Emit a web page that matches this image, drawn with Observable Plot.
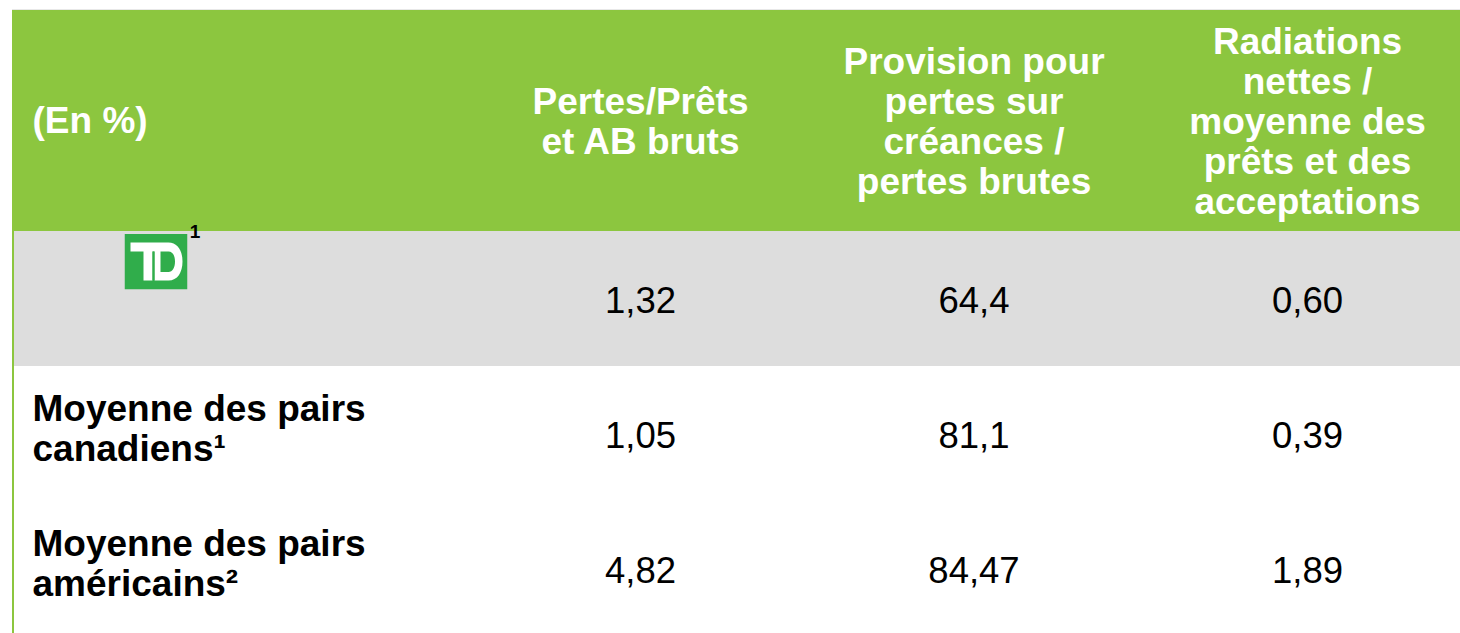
<!DOCTYPE html>
<html>
<head>
<meta charset="utf-8">
<script src="https://cdn.jsdelivr.net/npm/d3@7"></script>
<script src="https://cdn.jsdelivr.net/npm/@observablehq/plot@0.6"></script>
<style>
html, body { margin: 0; padding: 0; background: #ffffff; }
#chart svg { display: block; }
</style>
</head>
<body>
<div id="chart"></div>
<script>
// ---- Data ----
const columns = ["pertes", "provision", "radiations"];
const columnHeaders = [
  "Pertes/Prêts\net AB bruts",
  "Provision pour\npertes sur\ncréances /\npertes brutes",
  "Radiations\nnettes /\nmoyenne des\nprêts et des\nacceptations"
];
const cornerLabel = "(En %)";
const rows = ["TD", "CAN", "US"];
const rowLabels = [null, "Moyenne des pairs\ncanadiens¹", "Moyenne des pairs\naméricains²"];
const pertesPrets = [1.32, 1.05, 4.82];
const provisionPertes = [64.4, 81.1, 84.47];
const radiationsNettes = [0.60, 0.39, 1.89];
const minDecimals = [2, 1, 2];
const logoNote = "1";

// ---- Derived tables ----
const series = [pertesPrets, provisionPertes, radiationsNettes];
const cells = rows.flatMap((r, i) => columns.map((c, j) => ({row: r, col: c, value: series[j][i], dec: minDecimals[j]})));
const fmt = d => new Intl.NumberFormat("fr-FR", {minimumFractionDigits: d.dec, maximumFractionDigits: 2}).format(d.value);
const headerData = columns.map((c, j) => ({col: c, label: columnHeaders[j]}));
const labelData = rows.map((r, i) => ({row: r, label: rowLabels[i]})).filter(d => d.label);
const rowData = rows.map(r => ({row: r}));

const GREEN = "#8cc63f";
const GREY = "#dddddd";
const FONT = "'Liberation Sans', Arial, Helvetica, sans-serif";

const logoSvg = `<svg xmlns="http://www.w3.org/2000/svg" width="63" height="56" viewBox="0 0 63 56">
<rect width="63" height="56" fill="#30ad4b"/>
<path fill="#ffffff" fill-rule="evenodd" d="M6 9H30V18H28V47H19V18H6Z M30 9H44C53 9 58 17 58 28C58 39 53 47 44 47H30Z M36 18H44C48 18 50.5 22 50.5 28C50.5 34 48 38.5 44 38.5H36Z"/>
<rect x="28" y="18" width="2" height="29" fill="#30ad4b"/>
</svg>`;
const logoUri = "data:image/svg+xml;charset=utf-8," + encodeURIComponent(logoSvg);

const chart = Plot.plot({
  width: 1460,
  height: 633,
  margin: 0,
  style: {fontFamily: FONT, background: "#ffffff"},
  x: {type: "band", domain: columns, range: [473.25, 1473.75], padding: 0, round: false, axis: null},
  y: {type: "band", domain: ["hdr", ...rows], range: [96, 636], padding: 0, round: false, axis: null},
  marks: [
    // faint line above header
    Plot.cell([{row: "hdr"}], {y: "row", fill: "#e8e8e8", insetTop: -87, insetBottom: 134, insetLeft: 12}),
    // header band
    Plot.cell([{row: "hdr"}], {y: "row", fill: GREEN, insetTop: -86, insetLeft: 12}),
    // grey TD row
    Plot.cell(rowData.filter(d => d.row === "TD"), {y: "row", fill: GREY, insetLeft: 14}),
    // left green border along body rows
    Plot.cell(rowData, {y: "row", fill: GREEN, insetLeft: 12, insetRight: 1446}),
    // header texts
    Plot.text([cornerLabel], {y: () => "hdr", text: d => d, frameAnchor: "left", textAnchor: "start", dx: 32, dy: -42.5,
      fill: "#ffffff", fontSize: 37, fontWeight: "bold"}),
    Plot.text(headerData, {x: "col", y: () => "hdr", text: "label", fill: "#ffffff", fontSize: 37, fontWeight: "bold",
      lineHeight: 40 / 37, lineAnchor: "middle", dy: -42.5}),
    // row labels
    Plot.text(labelData, {y: "row", text: "label", frameAnchor: "left", textAnchor: "start", dx: 32, dy: -6,
      fill: "#000000", fontSize: 37, fontWeight: "bold", lineHeight: 40 / 37, lineAnchor: "middle"}),
    // TD logo
    Plot.image([{row: "TD"}], {y: "row", src: logoUri, width: 63, height: 56, frameAnchor: "left", dx: 155.5, dy: -37.5}),
    Plot.text([logoNote], {y: () => "TD", text: d => d, frameAnchor: "left", textAnchor: "middle", dx: 194.5, dy: -67.5,
      fill: "#000000", fontSize: 19, fontWeight: "bold"}),
    // values
    Plot.text(cells, {x: "col", y: "row", text: fmt, fill: "#000000", fontSize: 36.5, dy: 2.5})
  ]
});
document.getElementById("chart").appendChild(chart);
</script>
</body>
</html>
